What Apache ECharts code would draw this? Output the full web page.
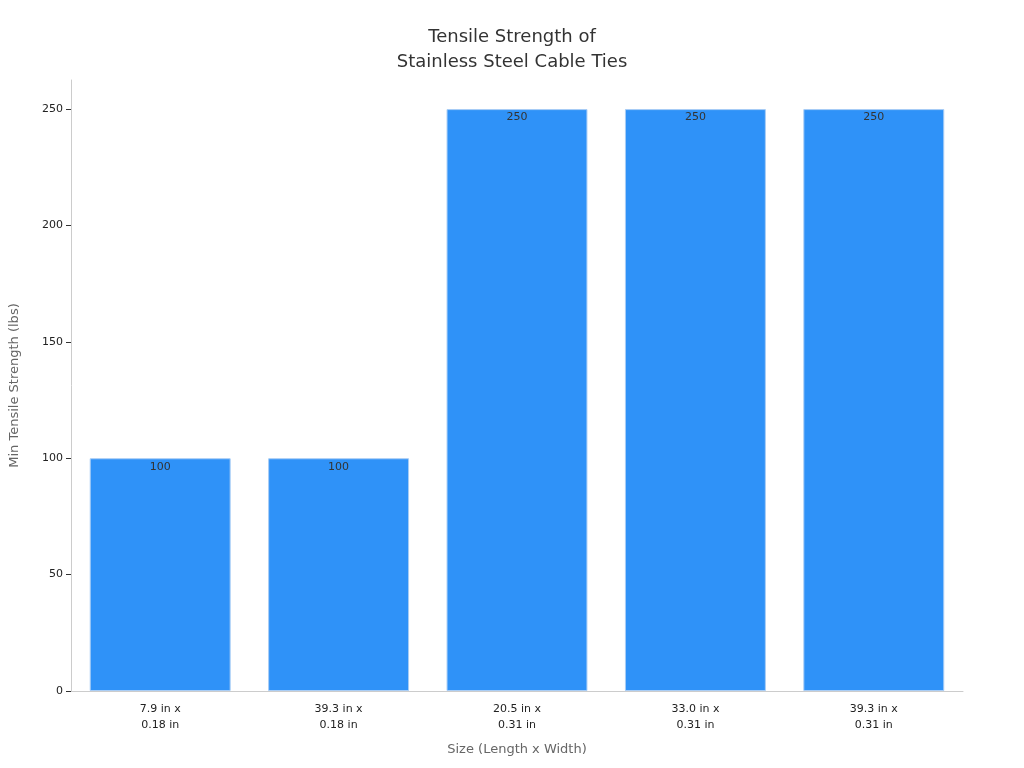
<!DOCTYPE html>
<html><head><meta charset="utf-8">
<script src="https://cdn.jsdelivr.net/npm/echarts@6/dist/echarts.min.js"></script>
<style>html,body{margin:0;padding:0}#c{width:1024px;height:768px}</style>
</head><body><div id="c"></div>
<script>
const categories = ['7.9 in x\n0.18 in','39.3 in x\n0.18 in','20.5 in x\n0.31 in','33.0 in x\n0.31 in','39.3 in x\n0.31 in'];
const values = [100,100,250,250,250];
const chart = echarts.init(document.getElementById('c'));
chart.setOption({
  title:{text:'Tensile Strength of\nStainless Steel Cable Ties',left:'center',top:20,
    textStyle:{fontFamily:'DejaVu Sans',fontSize:18,fontWeight:'normal',color:'#333',lineHeight:25}},
  grid:{left:68,right:61,top:80,bottom:77},
  xAxis:{type:'category',data:categories,name:'Size (Length x Width)',nameLocation:'middle',nameGap:52,
    nameTextStyle:{fontFamily:'DejaVu Sans',fontSize:13,color:'#666'},
    axisLine:{lineStyle:{color:'#ccc'}},axisTick:{show:false},
    axisLabel:{fontFamily:'DejaVu Sans',fontSize:11,color:'#222',lineHeight:16,margin:10}},
  yAxis:{type:'value',min:0,max:262.5,interval:50,name:'Min Tensile Strength (lbs)',nameLocation:'middle',nameGap:50,
    nameTextStyle:{fontFamily:'DejaVu Sans',fontSize:13,color:'#666'},
    axisLine:{show:true,lineStyle:{color:'#ccc'}},axisTick:{show:true,length:5,lineStyle:{color:'#333'}},
    splitLine:{show:false},
    axisLabel:{showMaxLabel:false,fontFamily:'DejaVu Sans',fontSize:11,color:'#222'}},
  series:[{type:'bar',data:values,barCategoryGap:'21%',
    itemStyle:{color:'#2f92f8',borderColor:'#a9cdf5',borderWidth:1},
    label:{show:true,position:'insideTop',offset:[0,-2],fontFamily:'DejaVu Sans',fontSize:11,color:'#333'}}]
});
</script></body></html>
